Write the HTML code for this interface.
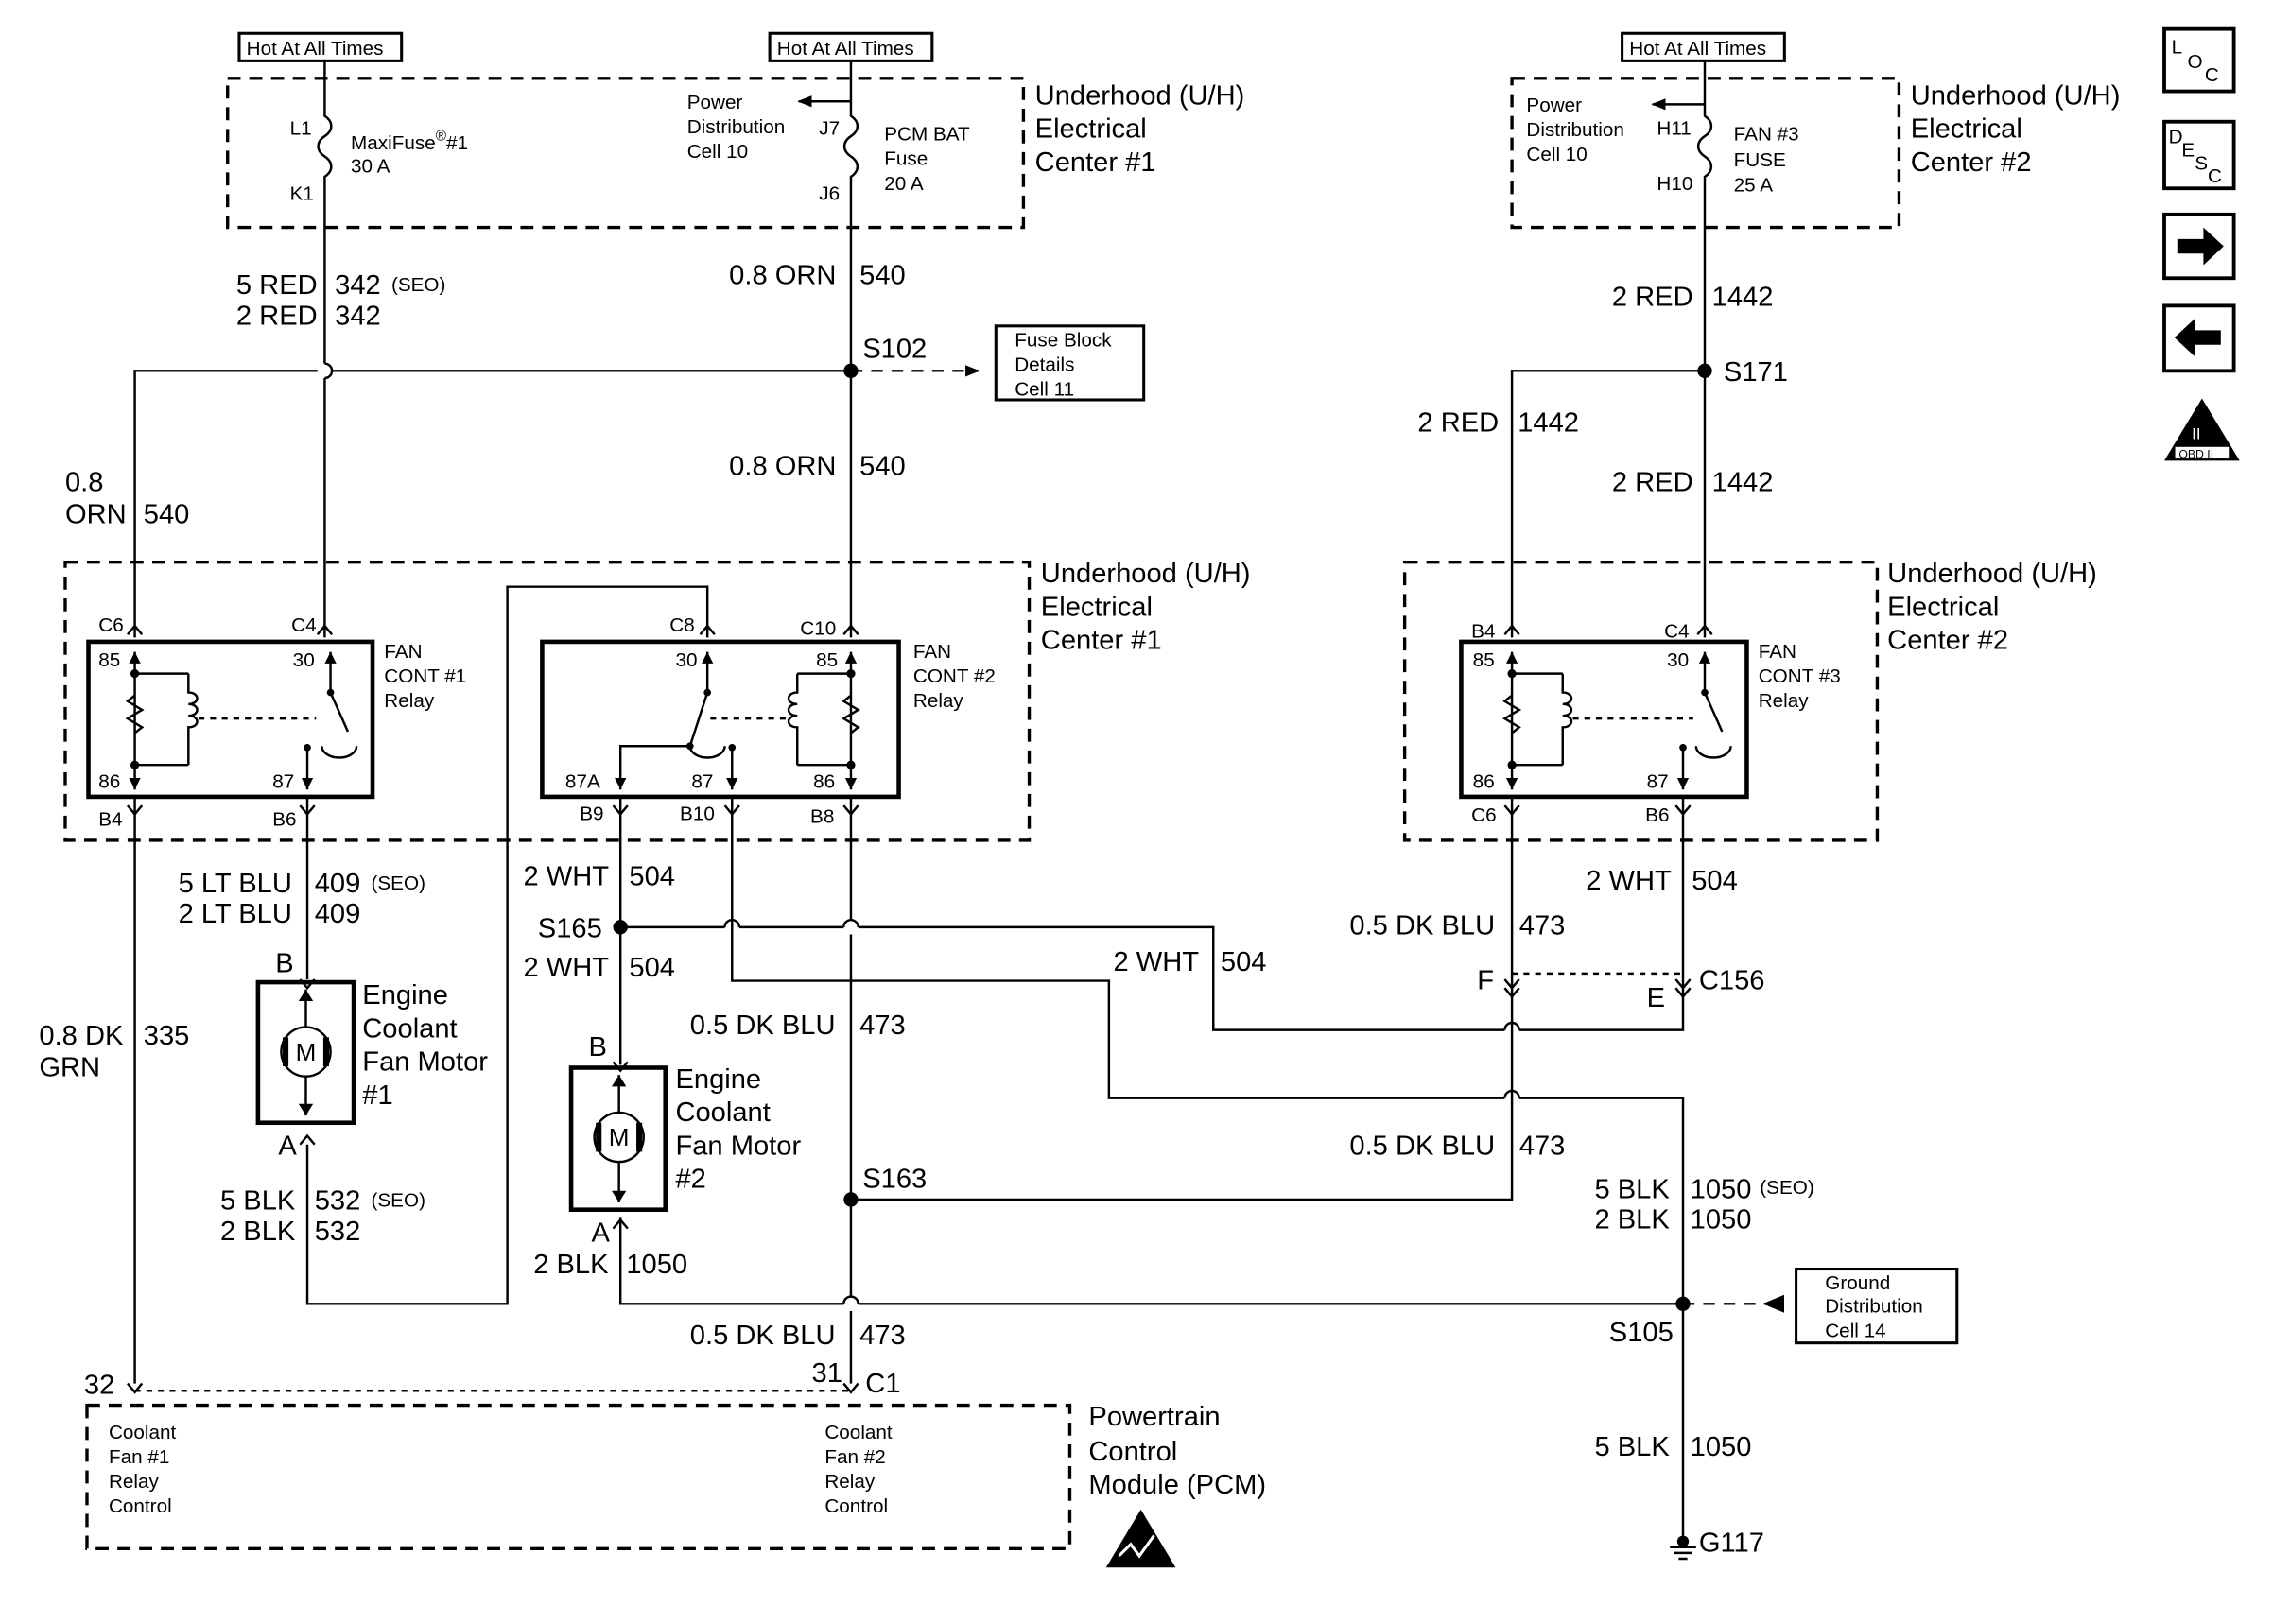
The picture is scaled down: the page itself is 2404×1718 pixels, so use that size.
<!DOCTYPE html>
<html><head><meta charset="utf-8"><style>
html,body{margin:0;padding:0;background:#fff}
svg{display:block}
text{font-family:"Liberation Sans",sans-serif;fill:#000}
.w{font-size:19px}
.s{font-size:13.5px}
.t{font-size:19px}
</style></head><body>
<svg width="2404" height="1718" viewBox="0 0 1568 1121" preserveAspectRatio="none" xmlns="http://www.w3.org/2000/svg">
<defs>
<marker id="ar" markerWidth="10" markerHeight="10" refX="9" refY="5" orient="auto" markerUnits="userSpaceOnUse"><path d="M0,1 L10,5 L0,9 z" fill="#000"/></marker>
</defs>
<g fill="none" stroke="#000" stroke-width="1.6">
<rect x="165" y="23" width="112" height="19" stroke-width="2"/>
<rect x="531" y="23" width="112" height="19" stroke-width="2"/>
<rect x="1119" y="23" width="112" height="19" stroke-width="2"/>
<g stroke-dasharray="9,6" stroke-width="2.2">
<rect x="157" y="54" width="549" height="103"/>
<rect x="1043" y="54" width="267" height="103"/>
<rect x="45" y="388" width="665" height="192"/>
<rect x="969" y="388" width="326" height="192"/>
<rect x="60" y="970" width="678" height="99"/>
</g>
<path d="M224,42 V80 c6,4 6,10 0,14 c-6,4 -6,10 0,14 c6,4 6,10 0,14 V251"/>
<path d="M224,261 V440"/>
<path d="M224,251 a5,5 0 0 1 0,10"/>
<path d="M587,42 V80 c6,4 6,10 0,14 c-6,4 -6,10 0,14 c6,4 6,10 0,14 V440"/>
<path d="M1176,42 V80 c6,4 6,10 0,14 c-6,4 -6,10 0,14 c6,4 6,10 0,14 V440"/>
<path d="M587,70 H551" marker-end="url(#ar)"/>
<path d="M1176,72 H1140" marker-end="url(#ar)"/>
<path d="M93,440 V256 H219 M229,256 H587"/>
<path d="M587,256 H675" stroke-dasharray="8,6" marker-end="url(#ar)"/>
<rect x="687" y="225" width="102" height="51" stroke-width="2"/>
<path d="M1043,440 V256 H1176"/>
<rect x="61" y="443" width="196" height="107" stroke-width="3"/>
<rect x="374" y="443" width="246" height="107" stroke-width="3"/>
<rect x="1008" y="443" width="197" height="107" stroke-width="3"/>
<path d="M488,440 V405 H350 V900 H212 V790"/>
<path d="M93,550 V955"/>
<path d="M212,550 V676"/>
<rect x="178" y="678" width="66" height="97" stroke-width="3"/>
<circle cx="211" cy="726" r="17"/>
<path d="M211,683 V709 M211,743 V770"/>
<path d="M428,550 V735"/>
<rect x="394" y="737" width="65" height="98" stroke-width="3"/>
<circle cx="427" cy="785" r="17"/>
<path d="M427,742 V768 M427,802 V830"/>
<path d="M428,840 V900 H582 M592,900 H1161"/>
<path d="M582,900 a5,5 0 0 1 10,0"/>
<path d="M428,640 H500 M510,640 H582 M592,640 H837 V711 H1038 M1048,711 H1161 V550"/>
<path d="M500,640 a5,5 0 0 1 10,0 M582,640 a5,5 0 0 1 10,0 M1038,711 a5,5 0 0 1 10,0"/>
<path d="M505,550 V677 H765 V758 H1038 M1048,758 H1161 V1060"/>
<path d="M1038,758 a5,5 0 0 1 10,0"/>
<path d="M587,550 V635 M587,645 V895 M587,905 V955"/>
<path d="M587,828 H1043 V550"/>
<path d="M1043,672 H1161" stroke-dasharray="4,4"/>
<path d="M1161,900 H1218" stroke-dasharray="8,6"/>
<path d="M1218,900 l12,-5 v10 z" fill="#000"/>
<rect x="1239" y="876" width="111" height="51" stroke-width="2"/>
<path d="M93,960 H587" stroke-dasharray="4,4"/>
<path d="M1152,1068 H1170 M1155,1072 H1167 M1158,1076 H1164"/>
</g>
<g fill="none" stroke="#000" stroke-width="1.6">
<path d="M88,438 l5,-6 l5,6 M219,438 l5,-6 l5,6 M582,438 l5,-6 l5,6 M483,438 l5,-6 l5,6 M1038,438 l5,-6 l5,6 M1171,438 l5,-6 l5,6"/>
<path d="M88,556 l5,6 l5,-6 M207,556 l5,6 l5,-6 M423,556 l5,6 l5,-6 M500,556 l5,6 l5,-6 M582,556 l5,6 l5,-6 M1038,556 l5,6 l5,-6 M1156,556 l5,6 l5,-6"/>
<path d="M207,676 l5,6 l5,-6 M207,790 l5,-6 l5,6 M423,733 l5,6 l5,-6 M423,848 l5,-6 l5,6"/>
<path d="M1038,676 l5,6 l5,-6 M1038,682 l5,6 l5,-6 M1156,676 l5,6 l5,-6 M1156,682 l5,6 l5,-6"/>
<path d="M88,955 l5,6 l5,-6 M582,955 l5,6 l5,-6"/>
</g>
<g fill="none" stroke="#000" stroke-width="1.6">
<path d="M93,450 V545 M93,465 H130 M93,528 H130 M93,480 l-5,4 l10,6 l-10,6 l10,6 l-5,4"/>
<path d="M130,465 V478 c8,0 8,8 0,8 c8,0 8,8 0,8 c8,0 8,8 0,8 V528"/>
<path d="M137,496 H218" stroke-dasharray="4,4"/>
<path d="M228,450 V478 L240,505 M212,545 V516 M222,515 a12,8 0 0 0 24,0" />
<path d="M587,450 V545 M550,465 H587 M550,528 H587 M587,480 l-5,4 l10,6 l-10,6 l10,6 l-5,4"/>
<path d="M550,465 V478 c-8,0 -8,8 0,8 c-8,0 -8,8 0,8 c-8,0 -8,8 0,8 V528"/>
<path d="M490,496 H543" stroke-dasharray="4,4"/>
<path d="M488,450 V478 L476,515 M428,545 V515 H476 M505,545 V516 M476,515 a12,8 0 0 0 24,0"/>
<path d="M1043,450 V545 M1043,465 H1078 M1043,528 H1078 M1043,480 l-5,4 l10,6 l-10,6 l10,6 l-5,4"/>
<path d="M1078,465 V478 c8,0 8,8 0,8 c8,0 8,8 0,8 c8,0 8,8 0,8 V528"/>
<path d="M1085,496 H1168" stroke-dasharray="4,4"/>
<path d="M1176,450 V478 L1188,505 M1161,545 V516 M1170,515 a12,8 0 0 0 24,0"/>
</g>
<g fill="#000">
<circle cx="587" cy="256" r="5"/><circle cx="1176" cy="256" r="5"/>
<circle cx="428" cy="640" r="5"/><circle cx="587" cy="828" r="5"/>
<circle cx="1161" cy="900" r="5"/><circle cx="1161" cy="1064" r="4"/>
<circle cx="93" cy="465" r="3"/><circle cx="93" cy="528" r="3"/>
<circle cx="587" cy="465" r="3"/><circle cx="587" cy="528" r="3"/>
<circle cx="1043" cy="465" r="3"/><circle cx="1043" cy="528" r="3"/>
<circle cx="228" cy="478" r="2.5"/><circle cx="212" cy="516" r="2.5"/>
<circle cx="488" cy="478" r="2.5"/><circle cx="476" cy="515" r="2.5"/><circle cx="505" cy="516" r="2.5"/>
<circle cx="1176" cy="478" r="2.5"/><circle cx="1161" cy="516" r="2.5"/>
<rect x="195" y="716" width="4" height="20"/><rect x="223" y="716" width="4" height="20"/>
<rect x="411" y="775" width="4" height="20"/><rect x="439" y="775" width="4" height="20"/>
</g>
<g fill="#000">
<path d="M211,683 l-5,8 h10 z M211,770 l-5,-8 h10 z M427,742 l-5,8 h10 z M427,830 l-5,-8 h10 z"/>
<path d="M93,450 l-4,8 h8 z M228,450 l-4,8 h8 z M587,450 l-4,8 h8 z M488,450 l-4,8 h8 z M1043,450 l-4,8 h8 z M1176,450 l-4,8 h8 z"/>
<path d="M93,545 l-4,-8 h8 z M212,545 l-4,-8 h8 z M428,545 l-4,-8 h8 z M505,545 l-4,-8 h8 z M587,545 l-4,-8 h8 z M1043,545 l-4,-8 h8 z M1161,545 l-4,-8 h8 z"/>
</g>
<text text-anchor="middle" x="211" y="732" font-size="17">M</text>
<text text-anchor="middle" x="427" y="791" font-size="17">M</text>
<g class="s">
<text x="170" y="38">Hot At All Times</text>
<text x="536" y="38">Hot At All Times</text>
<text x="1124" y="38">Hot At All Times</text>
<text x="200" y="93">L1</text><text x="200" y="138">K1</text>
<text x="242" y="103">MaxiFuse<tspan font-size="10" dy="-6">®</tspan><tspan dy="6">#1</tspan></text>
<text x="242" y="119">30 A</text>
<text x="474" y="75">Power</text><text x="474" y="92">Distribution</text><text x="474" y="109">Cell 10</text>
<text x="565" y="93">J7</text><text x="565" y="138">J6</text>
<text x="610" y="97">PCM BAT</text><text x="610" y="114">Fuse</text><text x="610" y="131">20 A</text>
<text x="1053" y="77">Power</text><text x="1053" y="94">Distribution</text><text x="1053" y="111">Cell 10</text>
<text x="1143" y="93">H11</text><text x="1143" y="131">H10</text>
<text x="1196" y="97">FAN #3</text><text x="1196" y="115">FUSE</text><text x="1196" y="132">25 A</text>
<text x="700" y="239">Fuse Block</text><text x="700" y="256">Details</text><text x="700" y="273">Cell 11</text>
<text x="68" y="436">C6</text><text x="201" y="436">C4</text>
<text x="68" y="460">85</text><text x="202" y="460">30</text>
<text x="68" y="544">86</text><text x="188" y="544">87</text>
<text x="68" y="570">B4</text><text x="188" y="570">B6</text>
<text x="265" y="454">FAN</text><text x="265" y="471">CONT #1</text><text x="265" y="488">Relay</text>
<text x="462" y="436">C8</text><text x="552" y="438">C10</text>
<text x="466" y="460">30</text><text x="563" y="460">85</text>
<text x="390" y="544">87A</text><text x="477" y="544">87</text><text x="561" y="544">86</text>
<text x="400" y="566">B9</text><text x="469" y="566">B10</text><text x="559" y="568">B8</text>
<text x="630" y="454">FAN</text><text x="630" y="471">CONT #2</text><text x="630" y="488">Relay</text>
<text x="1015" y="440">B4</text><text x="1148" y="440">C4</text>
<text x="1016" y="460">85</text><text x="1150" y="460">30</text>
<text x="1016" y="544">86</text><text x="1136" y="544">87</text>
<text x="1015" y="567">C6</text><text x="1135" y="567">B6</text>
<text x="1213" y="454">FAN</text><text x="1213" y="471">CONT #3</text><text x="1213" y="488">Relay</text>
<text x="1259" y="890">Ground</text><text x="1259" y="906">Distribution</text><text x="1259" y="923">Cell 14</text>
<text x="75" y="993">Coolant</text><text x="75" y="1010">Fan #1</text><text x="75" y="1027">Relay</text><text x="75" y="1044">Control</text>
<text x="569" y="993">Coolant</text><text x="569" y="1010">Fan #2</text><text x="569" y="1027">Relay</text><text x="569" y="1044">Control</text>
<text x="270" y="201">(SEO)</text><text x="256" y="614">(SEO)</text><text x="256" y="833">(SEO)</text><text x="1214" y="824">(SEO)</text>
</g>
<g class="t">
<text x="714" y="72">Underhood (U/H)</text><text x="714" y="95">Electrical</text><text x="714" y="118">Center #1</text>
<text x="1318" y="72">Underhood (U/H)</text><text x="1318" y="95">Electrical</text><text x="1318" y="118">Center #2</text>
<text x="718" y="402">Underhood (U/H)</text><text x="718" y="425">Electrical</text><text x="718" y="448">Center #1</text>
<text x="1302" y="402">Underhood (U/H)</text><text x="1302" y="425">Electrical</text><text x="1302" y="448">Center #2</text>
<text x="250" y="693">Engine</text><text x="250" y="716">Coolant</text><text x="250" y="739">Fan Motor</text><text x="250" y="762">#1</text>
<text x="466" y="751">Engine</text><text x="466" y="774">Coolant</text><text x="466" y="797">Fan Motor</text><text x="466" y="820">#2</text>
<text x="751" y="984">Powertrain</text><text x="751" y="1008">Control</text><text x="751" y="1031">Module (PCM)</text>
</g>
<g class="w">
<text x="163" y="203">5 RED</text><text x="231" y="203">342</text>
<text x="163" y="224">2 RED</text><text x="231" y="224">342</text>
<text x="503" y="196">0.8 ORN</text><text x="593" y="196">540</text>
<text x="595" y="247">S102</text>
<text x="503" y="328">0.8 ORN</text><text x="593" y="328">540</text>
<text x="45" y="339">0.8</text><text x="45" y="361">ORN</text><text x="99" y="361">540</text>
<text x="1112" y="211">2 RED</text><text x="1181" y="211">1442</text>
<text x="1189" y="263">S171</text>
<text x="978" y="298">2 RED</text><text x="1047" y="298">1442</text>
<text x="1112" y="339">2 RED</text><text x="1181" y="339">1442</text>
<text x="123" y="616">5 LT BLU</text><text x="217" y="616">409</text>
<text x="123" y="637">2 LT BLU</text><text x="217" y="637">409</text>
<text x="190" y="671">B</text><text x="192" y="797">A</text>
<text x="27" y="721">0.8 DK</text><text x="27" y="743">GRN</text><text x="99" y="721">335</text>
<text x="152" y="835">5 BLK</text><text x="217" y="835">532</text>
<text x="152" y="856">2 BLK</text><text x="217" y="856">532</text>
<text x="361" y="611">2 WHT</text><text x="434" y="611">504</text>
<text x="371" y="647">S165</text>
<text x="361" y="674">2 WHT</text><text x="434" y="674">504</text>
<text x="406" y="729">B</text><text x="408" y="857">A</text>
<text x="368" y="879">2 BLK</text><text x="432" y="879">1050</text>
<text x="476" y="714">0.5 DK BLU</text><text x="593" y="714">473</text>
<text x="476" y="928">0.5 DK BLU</text><text x="593" y="928">473</text>
<text x="595" y="820">S163</text>
<text x="768" y="670">2 WHT</text><text x="842" y="670">504</text>
<text x="1094" y="614">2 WHT</text><text x="1167" y="614">504</text>
<text x="931" y="645">0.5 DK BLU</text><text x="1048" y="645">473</text>
<text x="931" y="797">0.5 DK BLU</text><text x="1048" y="797">473</text>
<text x="1019" y="683">F</text><text x="1136" y="695">E</text><text x="1172" y="683">C156</text>
<text x="1100" y="827">5 BLK</text><text x="1166" y="827">1050</text>
<text x="1100" y="848">2 BLK</text><text x="1166" y="848">1050</text>
<text x="1110" y="926">S105</text>
<text x="1100" y="1005">5 BLK</text><text x="1166" y="1005">1050</text>
<text x="1172" y="1071">G117</text>
<text x="58" y="962">32</text><text x="560" y="954">31</text><text x="597" y="961">C1</text>
</g>
<g>
<path d="M763,1082 L787,1042 L811,1082 Z" fill="#000"/>
<path d="M772,1074 l8,-8 l6,8 l10,-14" stroke="#fff" stroke-width="2" fill="none"/>
</g>
<g fill="none" stroke="#000" stroke-width="2.5">
<rect x="1493" y="20" width="48" height="43"/>
<rect x="1493" y="84" width="48" height="46"/>
<rect x="1493" y="148" width="48" height="44"/>
<rect x="1493" y="211" width="48" height="45"/>
</g>
<g class="s">
<text x="1498" y="37">L</text><text x="1509" y="47">O</text><text x="1521" y="56">C</text>
<text x="1496" y="99">D</text><text x="1505" y="108">E</text><text x="1514" y="117">S</text><text x="1523" y="126">C</text>
</g>
<path d="M1502,165 h18 v-8 l14,13 l-14,13 v-8 h-18 z" fill="#000"/>
<path d="M1532,228 h-18 v-8 l-14,13 l14,13 v-8 h18 z" fill="#000"/>
<path d="M1519,275 L1545,318 L1493,318 Z" fill="#000"/>
<rect x="1500" y="308" width="38" height="9" fill="#fff" stroke="#000"/>
<text x="1503" y="316" font-size="8">OBD II</text>
<text x="1512" y="303" font-size="11" style="fill:#fff">II</text>
</svg>
</body></html>
